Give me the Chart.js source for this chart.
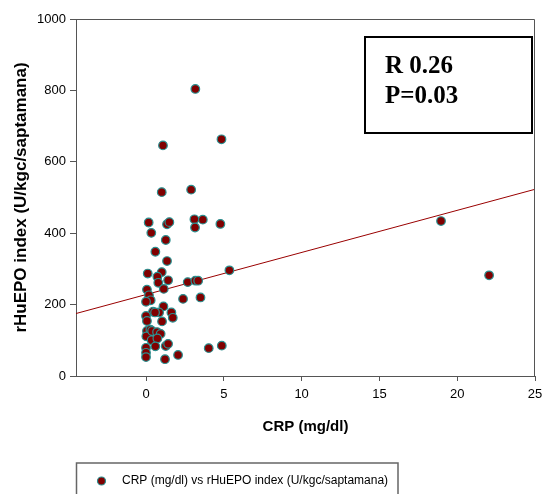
<!DOCTYPE html>
<html>
<head>
<meta charset="utf-8">
<script src="https://cdn.jsdelivr.net/npm/chart.js@4"></script>
<style>
  html, body { margin: 0; padding: 0; background: #fff; }
  canvas { display: block; }
</style>
</head>
<body>
<canvas id="chart" width="544" height="494"></canvas>
<script>
// datos
const crp = [3.17, 4.85, 1.09, 1.01, 2.90, 0.17, 0.34, 1.35, 1.50, 3.11, 3.65, 3.15, 4.78, 1.27, 0.60, 1.35, 5.36, 0.11, 1.01, 0.73,
             0.79, 1.42, 2.68, 3.17, 3.35, 0.06, 1.14, 0.19, 0.30, 0.00, 2.38, 3.50, 1.12, 0.45, 0.84, 0.58, 1.63, 1.72, 0.00, 0.06,
             1.03, 0.06, 0.28, 0.02, 0.39, 0.71, 0.94, 0.36, 0.73, 0.60, 1.27, 1.42, 0.00, 0.00, 0.00, 1.22, 2.06, 4.03, 4.87, 18.96, 22.05];
const epo = [804, 663, 646, 515, 522, 430, 401, 425, 431, 439, 438, 416, 426, 381, 348, 322, 296, 287, 291, 278,
             261, 268, 263, 267, 267, 242, 244, 226, 212, 208, 216, 220, 195, 180, 178, 178, 178, 163, 168, 154,
             153, 126, 130, 111, 126, 123, 118, 100, 105, 83, 84, 90, 79, 65, 53, 47, 59, 78, 85, 434, 282];

// recta de regresion (extremos del eje)
const fitX = [-4.5, 25];
const fitY = [175, 523];

const xTicks = [0, 5, 10, 15, 20, 25];
const yTicks = [0, 200, 400, 600, 800, 1000];

const xTitle = 'CRP (mg/dl)';
const yTitle = 'rHuEPO index (U/kgc/saptamana)';
const legendLabel = 'CRP (mg/dl) vs rHuEPO index (U/kgc/saptamana)';
const statLines = ['R 0.26', 'P=0.03'];

const SANS = '"Liberation Sans", Arial, sans-serif';
const SERIF = '"Liberation Serif", "Times New Roman", serif';
const AXIS = '#555';
const DOT = '#800000';
const RING = '#2a8f8f';

// marco, caja de R/P y leyenda
const extras = {
    id: 'extras',
    afterDraw(chart) {
        const ctx = chart.ctx;
        const a = chart.chartArea;
        ctx.save();
        ctx.strokeStyle = AXIS;
        ctx.lineWidth = 1;
        ctx.beginPath();
        ctx.moveTo(a.left, a.top + 0.5);
        ctx.lineTo(a.right - 0.5, a.top + 0.5);
        ctx.lineTo(a.right - 0.5, a.bottom);
        ctx.stroke();

        // caja de estadisticos
        ctx.strokeStyle = '#000';
        ctx.lineWidth = 2;
        ctx.fillStyle = '#fff';
        ctx.fillRect(365, 37, 167, 96);
        ctx.strokeRect(365, 37, 167, 96);
        ctx.fillStyle = '#000';
        ctx.font = 'bold 25px ' + SERIF;
        ctx.textBaseline = 'alphabetic';
        ctx.textAlign = 'left';
        ctx.fillText(statLines[0], 385, 73);
        ctx.fillText(statLines[1], 385, 103);

        // leyenda
        ctx.strokeStyle = '#666';
        ctx.lineWidth = 1.5;
        ctx.beginPath();
        ctx.moveTo(76.5, 500);
        ctx.lineTo(76.5, 463);
        ctx.lineTo(398, 463);
        ctx.lineTo(398, 500);
        ctx.stroke();
        ctx.beginPath();
        ctx.arc(101.5, 481, 4, 0, Math.PI * 2);
        ctx.fillStyle = DOT;
        ctx.fill();
        ctx.lineWidth = 1.2;
        ctx.strokeStyle = RING;
        ctx.stroke();
        ctx.fillStyle = '#000';
        ctx.font = '12px ' + SANS;
        ctx.textBaseline = 'middle';
        ctx.fillText(legendLabel, 122, 481);
        ctx.restore();
    }
};

new Chart(document.getElementById('chart'), {
    type: 'scatter',
    data: {
        datasets: [{
            label: legendLabel,
            data: crp.map((x, i) => ({ x: x, y: epo[i] })),
            backgroundColor: DOT,
            borderColor: RING,
            borderWidth: 1.2,
            pointRadius: 4.3,
            order: 1
        }, {
            type: 'line',
            label: 'fit',
            data: fitX.map((x, i) => ({ x: x, y: fitY[i] })),
            borderColor: '#990000',
            borderWidth: 1,
            pointRadius: 0,
            fill: false,
            order: 2
        }]
    },
    options: {
        responsive: false,
        animation: false,
        devicePixelRatio: 1,
        layout: { padding: { top: 19, right: 9, left: 0, bottom: 52 } },
        plugins: { legend: { display: false }, tooltip: { enabled: false } },
        scales: {
            x: {
                type: 'linear',
                min: -4.5,
                max: 25,
                afterBuildTicks: s => { s.ticks = xTicks.map(v => ({ value: v })); },
                afterFit: s => { s.height = 66; s.paddingLeft = 0; s.paddingRight = 0; },
                grid: { display: true, drawOnChartArea: false, drawTicks: true, tickLength: 5, color: AXIS },
                border: { display: true, color: AXIS, width: 1 },
                ticks: { color: '#000', padding: 6, font: { family: SANS, size: 13 }, callback: v => String(v) },
                title: {
                    display: true, text: xTitle, color: '#000',
                    font: { family: SANS, size: 15, weight: 'bold' },
                    padding: { top: 0, bottom: 6 }
                }
            },
            y: {
                type: 'linear',
                min: 0,
                max: 1000,
                afterBuildTicks: s => { s.ticks = yTicks.map(v => ({ value: v })); },
                afterFit: s => { s.width = 76; s.paddingTop = 0; s.paddingBottom = 0; },
                grid: { display: true, drawOnChartArea: false, drawTicks: true, tickLength: 6, color: AXIS },
                border: { display: true, color: AXIS, width: 1 },
                ticks: { color: '#000', padding: 4, font: { family: SANS, size: 13 }, callback: v => String(v) },
                title: {
                    display: true, text: yTitle, color: '#000',
                    font: { family: SANS, size: 17, weight: 'bold' },
                    padding: { top: 11, bottom: 0 }
                }
            }
        }
    },
    plugins: [extras]
});
</script>
</body>
</html>
